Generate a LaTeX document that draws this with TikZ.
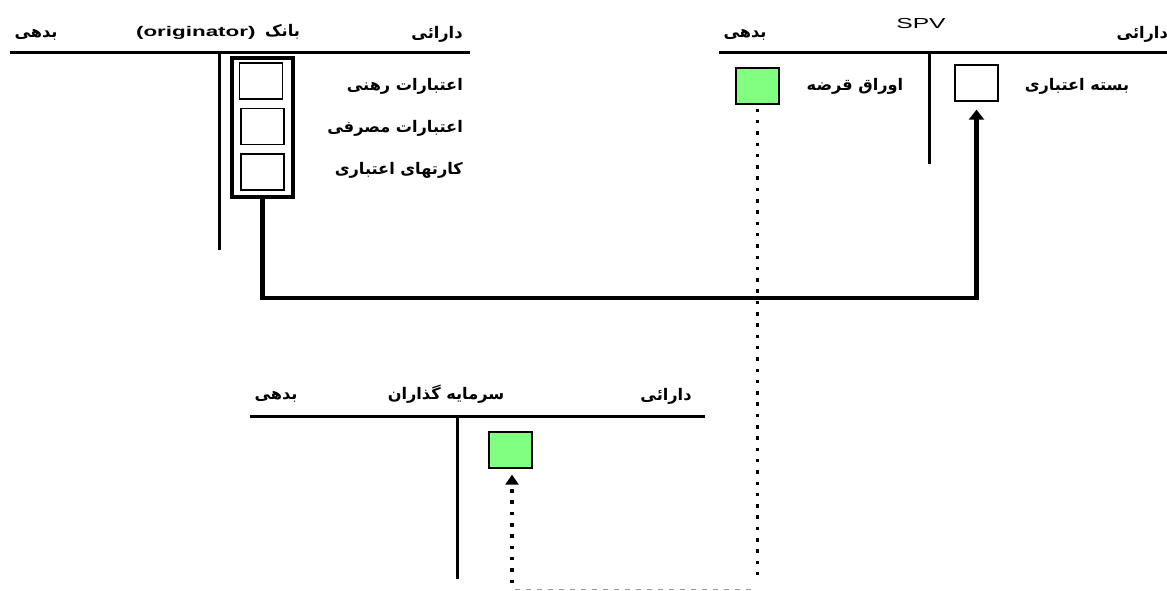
\documentclass[tikz,border=0pt]{standalone}
\usepackage{fontspec}
\usetikzlibrary{arrows.meta}
\TeXXeTstate=1
\newfontfamily\arf[Script=Arabic,FakeStretch=1.01]{DejaVu Sans}
\newfontfamily\latf[FakeStretch=1.7]{Liberation Sans}
\newfontfamily\latb[FakeStretch=1.6]{Liberation Sans Bold}
\definecolor{bondgreen}{HTML}{80FF80}
\tikzset{
  tline/.style={line width=3pt},
  fa/.style={inner sep=0pt, font=\arf\bfseries\fontsize{16}{18}\selectfont},
  la/.style={inner sep=0pt, font=\latf\fontsize{14.5}{16}\selectfont},
  slot/.style={draw, line width=1.3pt, minimum width=43pt, minimum height=36pt, inner sep=0pt},
  gbox/.style={slot, fill=bondgreen},
  pool/.style={draw, line width=4pt, minimum width=61pt, minimum height=139pt, inner sep=0pt},
  flow/.style={line width=4.5pt, -{Triangle[length=10pt,width=15pt]}},
  dots/.style={line width=3.5pt, dash pattern=on 3.5pt off 7.8pt},
  dotarrow/.style={dots, -{Triangle[length=10pt,width=13pt]}},
  guide/.style={line width=1pt, draw=black!40, dash pattern=on 5pt off 6pt}
}
\begin{document}
\begin{tikzpicture}[x=1pt,y=-1pt]
\useasboundingbox[fill=white] (0,0) rectangle (1167,590);
% ---- Bank T-account
\draw[tline] (10,52) -- (470,52);
\draw[tline] (219,52) -- (219,250);
\node[fa] (bankL) at (36,35) {\beginR بدهی\endR};
\node[fa] (bankT) at (218,32) {\beginR بانک\hspace{4pt} {\latb\fontsize{14}{16}\selectfont\beginL(originator)\endL}\endR};
\node[fa] (bankR) at (437,34) {\beginR دارائی\endR};
\node[pool] (pool) at (262.5,127.5) {};
\node[slot] (s1) at (261,81) {};
\node[slot] (s2) at (262.5,126.5) {};
\node[slot] (s3) at (262.5,172) {};
\node[fa, anchor=east] (l1) at (463,86) {\beginR اعتبارات رهنی\endR};
\node[fa, anchor=east] (l2) at (463,128) {\beginR اعتبارات مصرفی\endR};
\node[fa, anchor=east] (l3) at (463,170) {\beginR کارتهای اعتباری\endR};
% ---- SPV T-account
\draw[tline] (719,52) -- (1170,52);
\draw[tline] (929,52) -- (929,164);
\node[fa] (spvL) at (745,35) {\beginR بدهی\endR};
\node[la] (spvT) at (921,24) {SPV};
\node[fa, anchor=east] (spvR) at (1168,34) {\beginR دارائی\endR};
\node[gbox] (bond) at (757.5,86) {};
\node[fa] (bondl) at (855,86) {\beginR اوراق قرضه\endR};
\node[slot] (pkg) at (976.5,83) {};
\node[fa] (pkgl) at (1077,86) {\beginR بسته اعتباری\endR};
% ---- Investors T-account
\draw[tline] (250,416) -- (705,416);
\draw[tline] (457,416) -- (457,579);
\node[fa] (invL) at (276,397) {\beginR بدهی\endR};
\node[fa] (invT) at (446,394) {\beginR سرمایه گذاران\endR};
\node[fa] (invR) at (666,396) {\beginR دارائی\endR};
\node[gbox] (inv) at (510.5,450) {};
% ---- connectors
\coordinate (turn) at (976.5,298);
\draw[flow, shorten >=8pt] (pool.south) |- (turn) -- (pkg.south);
\coordinate (bondfoot) at (757.5,583);
\coordinate (invfoot) at (512,583);
\draw[dots] (bond.south) ++(0,4) -- (bondfoot);
\draw[guide] (515,589) -- (757,589);
\draw[dotarrow, shorten >=6pt] (invfoot) -- (inv.south -| invfoot);
\end{tikzpicture}
\end{document}
